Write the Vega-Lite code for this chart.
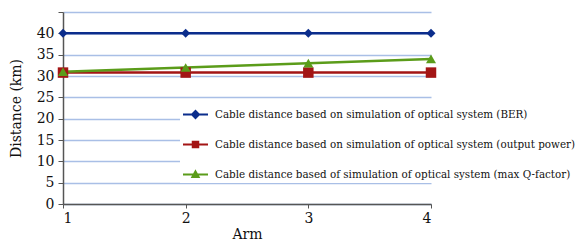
{
  "$schema": "https://vega.github.io/schema/vega-lite/v6.json",
  "autosize": "none",
  "width": 368,
  "height": 192,
  "padding": {"left": 63, "top": 12, "right": 156, "bottom": 40},
  "background": "white",
  "config": {
    "view": {"stroke": null},
    "font": "DejaVu Serif"
  },
  "data": {
    "values": [
      {"arm": 1, "series": "Cable distance based on simulation of optical system (BER)", "distance": 40},
      {"arm": 2, "series": "Cable distance based on simulation of optical system (BER)", "distance": 40},
      {"arm": 3, "series": "Cable distance based on simulation of optical system (BER)", "distance": 40},
      {"arm": 4, "series": "Cable distance based on simulation of optical system (BER)", "distance": 40},
      {"arm": 1, "series": "Cable distance based on simulation of optical system (output power)", "distance": 30.8},
      {"arm": 2, "series": "Cable distance based on simulation of optical system (output power)", "distance": 30.8},
      {"arm": 3, "series": "Cable distance based on simulation of optical system (output power)", "distance": 30.8},
      {"arm": 4, "series": "Cable distance based on simulation of optical system (output power)", "distance": 30.8},
      {"arm": 1, "series": "Cable distance based of simulation of optical system (max Q-factor)", "distance": 31},
      {"arm": 2, "series": "Cable distance based of simulation of optical system (max Q-factor)", "distance": 32},
      {"arm": 3, "series": "Cable distance based of simulation of optical system (max Q-factor)", "distance": 33},
      {"arm": 4, "series": "Cable distance based of simulation of optical system (max Q-factor)", "distance": 34}
    ]
  },
  "encoding": {
    "x": {
      "field": "arm", "type": "quantitative",
      "scale": {"domain": [1, 4], "nice": false, "zero": false},
      "axis": {
        "values": [1, 2, 3, 4], "format": "d", "grid": false,
        "title": "Arm", "titleFont": "DejaVu Serif", "titleFontSize": 14, "titleFontWeight": "normal", "titleColor": "#111", "titlePadding": 2,
        "labelFont": "DejaVu Serif", "labelFontSize": 14, "labelColor": "#111", "labelPadding": 3,
        "domainColor": "#555", "domainWidth": 1.5, "tickColor": "#555", "tickSize": 4
      }
    },
    "y": {
      "field": "distance", "type": "quantitative",
      "scale": {"domain": [0, 45], "nice": false},
      "axis": {
        "values": [0, 5, 10, 15, 20, 25, 30, 35, 40, 45],
        "labelExpr": "datum.value == 45 ? '' : datum.label",
        "grid": true, "gridColor": "#a9bfe6", "gridWidth": 1.5,
        "title": "Distance (km)", "titleFont": "DejaVu Serif", "titleFontSize": 14, "titleFontWeight": "normal", "titleColor": "#111",
        "titleX": -40, "titleY": 96,
        "labelFont": "DejaVu Serif", "labelFontSize": 14, "labelColor": "#111", "labelPadding": 4,
        "domainColor": "#555", "domainWidth": 1.5, "tickColor": "#555", "tickSize": 5,
        "encode": {"ticks": {"update": {"opacity": {"signal": "datum.value == 45 ? 0 : 1"}}}}
      }
    },
    "color": {
      "field": "series", "type": "nominal",
      "scale": {
        "domain": [
          "Cable distance based on simulation of optical system (BER)",
          "Cable distance based on simulation of optical system (output power)",
          "Cable distance based of simulation of optical system (max Q-factor)"
        ],
        "range": ["#0b2d8c", "#a31515", "#5b9c1a"]
      },
      "legend": {
        "title": null, "orient": "none", "legendX": 117, "legendY": 87,
        "fillColor": "white", "padding": 2,
        "labelFont": "DejaVu Serif Condensed, DejaVu Serif", "labelFontSize": 11.5, "labelColor": "#111", "labelLimit": 420, "labelOffset": 6,
        "symbolSize": 625, "symbolStrokeWidth": 2, "rowPadding": 9,
        "encode": {
          "symbols": {
            "update": {
              "fill": {"scale": "color", "field": "value"},
              "shape": {"signal": "datum.index == 0 ? 'M-1,0H1M0,-0.28L0.28,0L0,0.28L-0.28,0Z' : datum.index == 1 ? 'M-1,0H1M-0.22,-0.22H0.22V0.22H-0.22Z' : 'M-1,0H1M0,-0.25L0.25,0.2H-0.25Z'"}
            }
          }
        }
      }
    }
  },
  "layer": [
    {
      "mark": {"type": "line", "strokeWidth": 2.5}
    },
    {
      "transform": [{"filter": "datum.series == 'Cable distance based on simulation of optical system (BER)'"}],
      "mark": {"type": "point", "filled": true, "opacity": 1, "size": 80, "shape": "diamond", "color": "#0b2d8c"},
      "encoding": {"color": {"value": "#0b2d8c"}}
    },
    {
      "transform": [{"filter": "datum.series == 'Cable distance based on simulation of optical system (output power)'"}],
      "mark": {"type": "point", "filled": true, "opacity": 1, "size": 110, "shape": "square", "color": "#a31515"},
      "encoding": {"color": {"value": "#a31515"}}
    },
    {
      "transform": [{"filter": "datum.series == 'Cable distance based of simulation of optical system (max Q-factor)'"}],
      "mark": {"type": "point", "filled": true, "opacity": 1, "size": 100, "shape": "triangle-up", "color": "#5b9c1a"},
      "encoding": {"color": {"value": "#5b9c1a"}}
    }
  ]
}
